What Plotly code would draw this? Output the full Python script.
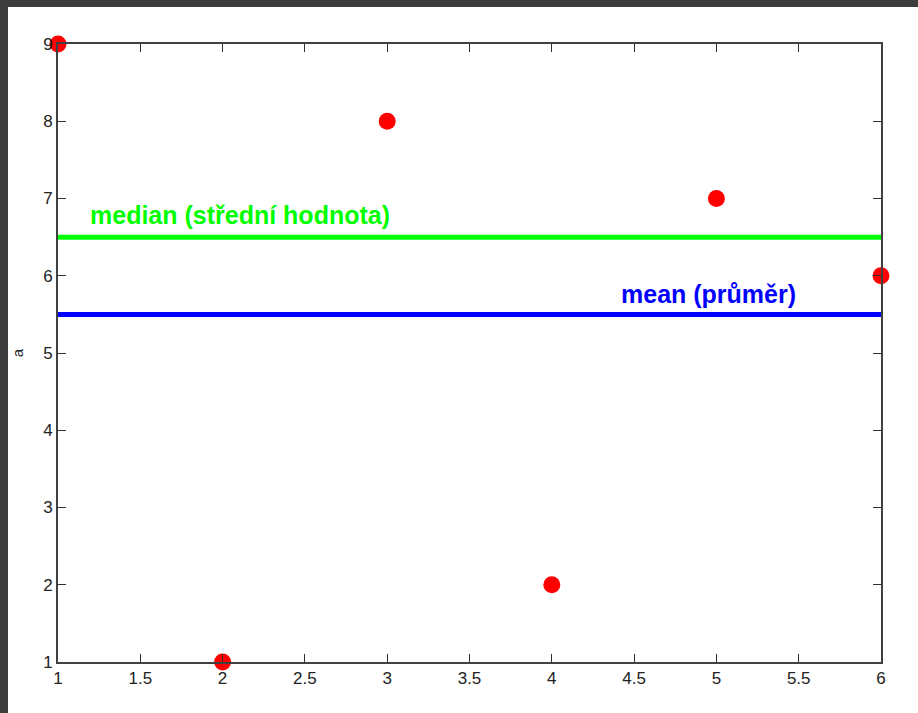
import plotly.graph_objects as go

# Sample values
idx = [1, 2, 3, 4, 5, 6]
a = [9, 1, 8, 2, 7, 6]
mean_a = sum(a) / len(a)
s = sorted(a)
median_a = (s[2] + s[3]) / 2

x_ticks = [1, 1.5, 2, 2.5, 3, 3.5, 4, 4.5, 5, 5.5, 6]
y_ticks = [1, 2, 3, 4, 5, 6, 7, 8, 9]

FONT = "Liberation Sans, Arial"

fig = go.Figure()

fig.add_trace(go.Scatter(x=[1, 6], y=[median_a, median_a], mode="lines",
                         line=dict(color="#00ff00", width=5), showlegend=False,
                         cliponaxis=False))
fig.add_trace(go.Scatter(x=[1, 6], y=[mean_a, mean_a], mode="lines",
                         line=dict(color="#0000ff", width=5), showlegend=False,
                         cliponaxis=False))
fig.add_trace(go.Scatter(x=idx, y=a, mode="markers",
                         marker=dict(color="#ff0000", size=17), showlegend=False,
                         cliponaxis=False))

fig.add_annotation(x=1.18, y=6.79, text="<b>median (střední hodnota)</b>",
                   showarrow=False, xanchor="left", yanchor="middle",
                   font=dict(family=FONT, size=25, color="#00ff00"))
fig.add_annotation(x=4.41, y=5.76, text="<b>mean (průměr)</b>",
                   showarrow=False, xanchor="left", yanchor="middle",
                   font=dict(family=FONT, size=25, color="#0000ff"))

# window frame strips (top and left)
fig.add_shape(type="rect", xref="paper", yref="paper", x0=-0.08, x1=-50 / 823,
              y0=-0.2, y1=1.2, fillcolor="#3c3c3c", line=dict(width=0), layer="above")
fig.add_shape(type="rect", xref="paper", yref="paper", x0=-0.08, x1=1.1,
              y0=655 / 618, y1=1.2, fillcolor="#3c3c3c", line=dict(width=0), layer="above")

axis_common = dict(showgrid=False, zeroline=False, showline=True, linecolor="#404040",
                   linewidth=2, mirror="ticks", ticks="inside", ticklen=8,
                   tickwidth=1, tickcolor="#303030",
                   tickfont=dict(family=FONT, size=17, color="#222222"))

fig.update_xaxes(range=[1, 6], tickvals=x_ticks,
                 ticktext=[f"{v:g}" for v in x_ticks], **axis_common)
fig.update_yaxes(range=[1, 9], tickvals=y_ticks,
                 ticktext=[str(v) for v in y_ticks],
                 title=dict(text="a", standoff=16,
                            font=dict(family=FONT, size=15, color="#222222")),
                 **axis_common)

fig.update_layout(width=918, height=713,
                  margin=dict(l=58, r=37, t=44, b=51),
                  paper_bgcolor="white", plot_bgcolor="white")

fig.write_html("out.html")
